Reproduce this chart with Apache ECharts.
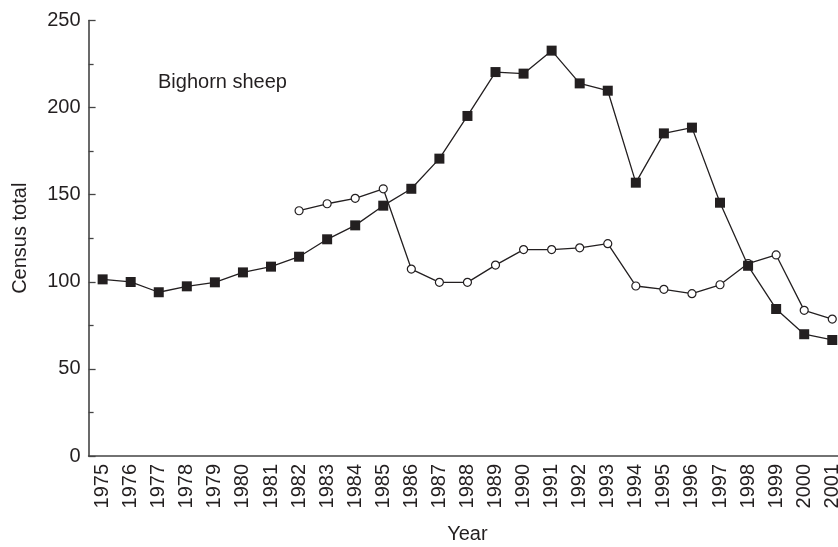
<!DOCTYPE html>
<html>
<head>
<meta charset="utf-8">
<script src="https://cdn.jsdelivr.net/npm/echarts@6/dist/echarts.min.js"></script>
<style>
html,body{margin:0;padding:0;background:#fff;}
#chart{width:838px;height:547px;}
</style>
</head>
<body>
<div id="chart"></div>
<script>
const years = ['1975','1976','1977','1978','1979','1980','1981','1982','1983','1984','1985','1986','1987','1988','1989','1990','1991','1992','1993','1994','1995','1996','1997','1998','1999','2000','2001'];
const squareSeries = [101.4, 99.9, 94.0, 97.4, 99.7, 105.4, 108.7, 114.4, 124.4, 132.4, 143.7, 153.4, 170.7, 195.2, 220.4, 219.5, 232.7, 213.9, 209.7, 156.9, 185.2, 188.5, 145.4, 109.2, 84.4, 69.9, 66.6];
const circleSeries = [null, null, null, null, null, null, null, 140.8, 144.8, 147.9, 153.4, 107.3, 99.7, 99.7, 109.6, 118.5, 118.5, 119.5, 121.9, 97.6, 95.7, 93.2, 98.3, 110.5, 115.4, 83.6, 78.6];
const yTicks = {min: 0, max: 250, interval: 50};
const panelLabel = 'Bighorn sheep';
const yTitle = 'Census total';
const xTitle = 'Year';

const ink = '#231f20';
const font = 'Liberation Sans, Arial, Helvetica, sans-serif';
const chart = echarts.init(document.getElementById('chart'), null, {renderer: 'canvas'});
chart.setOption({
  backgroundColor: '#fff',
  animation: false,
  grid: {left: 88.6, top: 20.5, bottom: 91, right: -8.3, containLabel: false, outerBoundsMode: 'none'},
  graphic: [{
    type: 'text', left: 158, top: 72,
    style: {text: panelLabel, font: '20px ' + font, fill: ink}
  }],
  xAxis: {
    type: 'category', data: years, boundaryGap: true,
    name: xTitle, nameLocation: 'middle', nameGap: 68,
    nameTextStyle: {fontSize: 20, fontFamily: font, color: ink},
    axisLine: {lineStyle: {color: '#444', width: 1.6}},
    axisTick: {inside: true, length: 6, lineStyle: {color: '#444', width: 1.3}},
    axisLabel: {rotate: 90, fontSize: 20, fontFamily: font, color: ink, margin: 8, interval: 0},
    splitLine: {show: false}
  },
  yAxis: {
    type: 'value', min: yTicks.min, max: yTicks.max, interval: yTicks.interval,
    name: yTitle, nameLocation: 'middle', nameGap: 58, nameRotate: 90,
    nameTextStyle: {fontSize: 20, fontFamily: font, color: ink},
    axisLine: {show: true, lineStyle: {color: '#444', width: 1.6}},
    axisTick: {show: true, inside: true, length: 7, lineStyle: {color: '#444', width: 1.3}},
    minorTick: {show: true, splitNumber: 2, length: 5, lineStyle: {color: '#444', width: 1.3}},
    axisLabel: {fontSize: 20, fontFamily: font, color: ink, margin: 8},
    splitLine: {show: false}
  },
  series: [
    {
      type: 'line', data: circleSeries, symbol: 'circle', symbolSize: 8, showSymbol: true,
      connectNulls: false,
      lineStyle: {color: ink, width: 1.3},
      itemStyle: {color: '#fff', borderColor: ink, borderWidth: 1.2},
      z: 2
    },
    {
      type: 'line', data: squareSeries, symbol: 'rect', symbolSize: 10, showSymbol: true,
      lineStyle: {color: ink, width: 1.3},
      itemStyle: {color: ink, borderColor: ink, borderWidth: 0},
      z: 3
    }
  ]
});
</script>
</body>
</html>
